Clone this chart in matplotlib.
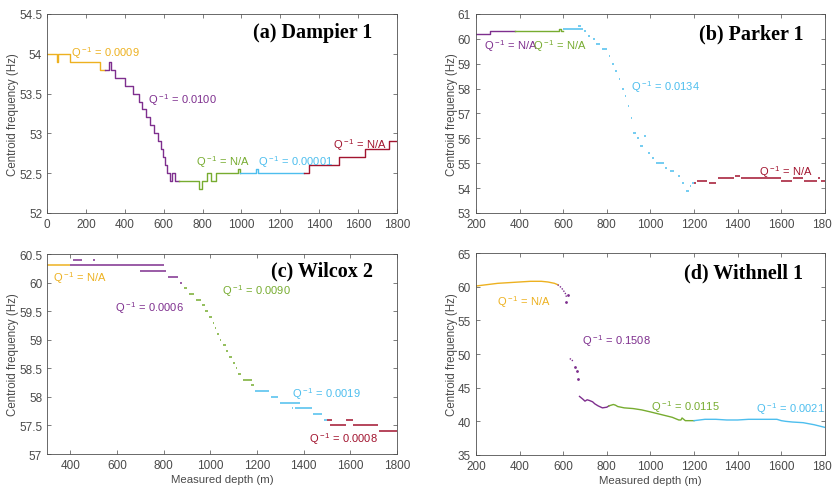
import numpy as np
import matplotlib
matplotlib.use("Agg")
import matplotlib.pyplot as plt

plt.rcParams["font.family"] = ["Liberation Sans", "DejaVu Sans"]
plt.rcParams["mathtext.fontset"] = "custom"
plt.rcParams["mathtext.rm"] = "Liberation Sans"
plt.rcParams["mathtext.it"] = "Liberation Sans:italic"

YEL, PUR, GRN, CYN, RED = "#EDB120", "#7E2F8E", "#77AC30", "#4DBEEE", "#A2142F"

# (a) Dampier 1 -- staircase traces (depth m, centroid Hz)
a_yel_x = [0, 50, 58, 120, 272, 300]
a_yel_y = [54.0, 53.9, 54.0, 53.9, 53.8, 53.8]
a_pur_x = [300, 320, 330, 350, 400, 440, 475, 490, 510, 530, 550, 570, 585, 595, 605, 615, 635, 645, 660, 680]
a_pur_y = [53.8, 53.9, 53.8, 53.7, 53.6, 53.5, 53.4, 53.3, 53.2, 53.1, 53.0, 52.9, 52.8, 52.7, 52.6, 52.5, 52.4, 52.5, 52.4, 52.4]
a_grn_x = [680, 780, 795, 825, 845, 870, 980, 990]
a_grn_y = [52.4, 52.3, 52.4, 52.5, 52.4, 52.5, 52.55, 52.5]
a_cyn_x = [990, 1075, 1085, 1320]
a_cyn_y = [52.5, 52.55, 52.5, 52.5]
a_red_x = [1320, 1345, 1500, 1635, 1760, 1800]
a_red_y = [52.5, 52.6, 52.7, 52.8, 52.9, 52.9]

# (b) Parker 1
b_pur_x = [200, 265, 380]
b_pur_y = [60.2, 60.3, 60.3]
b_grn_x = [380, 580, 590, 600]
b_grn_y = [60.3, 60.4, 60.3, 60.3]
b_cyn = [(600, 690, 60.4), (670, 680, 60.5), (695, 705, 60.3), (715, 725, 60.1), (735, 745, 60.0),
         (750, 770, 59.8), (780, 800, 59.6), (808, 815, 59.3), (825, 832, 59.0), (838, 845, 58.7),
         (855, 862, 58.4), (870, 877, 58.0), (882, 888, 57.7), (895, 902, 57.3), (910, 916, 56.8),
         (920, 935, 56.2), (940, 948, 56.0), (952, 965, 55.7), (972, 980, 56.1), (988, 1000, 55.4),
         (1008, 1015, 55.2), (1025, 1060, 55.0), (1065, 1075, 54.8), (1088, 1110, 54.7),
         (1125, 1135, 54.5), (1145, 1155, 54.2), (1165, 1175, 53.9), (1180, 1188, 54.1), (1190, 1198, 54.2)]
b_red = [(1200, 1210, 54.2), (1212, 1260, 54.3), (1268, 1300, 54.2), (1308, 1385, 54.4), (1390, 1410, 54.5),
         (1415, 1600, 54.4), (1600, 1650, 54.3), (1655, 1700, 54.4), (1705, 1765, 54.3), (1770, 1778, 54.4),
         (1780, 1800, 54.3)]

# (c) Wilcox 2
c_yel = [(300, 400, 60.3)]
c_pur = [(400, 800, 60.3), (410, 450, 60.4), (495, 505, 60.4), (700, 810, 60.2), (820, 860, 60.1), (868, 880, 60.0)]
c_grn = [(888, 900, 59.9), (908, 930, 59.8), (938, 960, 59.7), (965, 975, 59.6), (978, 992, 59.5),
         (995, 1005, 59.4), (1010, 1016, 59.3), (1020, 1026, 59.2), (1030, 1036, 59.1), (1040, 1046, 59.0),
         (1055, 1065, 58.9), (1068, 1075, 58.8), (1080, 1092, 58.7), (1098, 1104, 58.6), (1108, 1115, 58.5),
         (1120, 1130, 58.4), (1140, 1180, 58.3), (1175, 1185, 58.2)]
c_cyn = [(1190, 1250, 58.1), (1258, 1290, 58.0), (1300, 1385, 57.9), (1350, 1355, 57.8), (1362, 1435, 57.8),
         (1440, 1480, 57.7), (1488, 1500, 57.6)]
c_red = [(1500, 1520, 57.6), (1512, 1580, 57.5), (1580, 1610, 57.6), (1612, 1720, 57.5), (1722, 1800, 57.4)]

# (d) Withnell 1
d_yel_x = [200, 250, 300, 350, 400, 450, 500, 530, 560, 575]
d_yel_y = [60.1, 60.3, 60.5, 60.6, 60.7, 60.8, 60.8, 60.7, 60.5, 60.3]
d_pur1_x = [575, 590, 600, 610, 615]
d_pur1_y = [60.3, 59.9, 59.5, 59.0, 58.5]
d_pur_dots_x = [615, 620, 655, 662, 668]
d_pur_dots_y = [57.8, 58.8, 48.0, 47.5, 46.3]
d_pur2_x = [630, 640, 645]
d_pur2_y = [49.3, 49.2, 48.8]
d_pur3_x = [675, 690, 700, 710, 720, 735, 745, 760, 780, 800, 810]
d_pur3_y = [43.7, 43.3, 43.0, 43.2, 43.1, 42.9, 42.6, 42.3, 42.0, 42.1, 42.3]
d_grn_x = [810, 830, 840, 850, 880, 920, 960, 1000, 1050, 1100, 1130, 1140, 1145, 1160, 1200]
d_grn_y = [42.3, 42.5, 42.4, 42.2, 42.0, 41.9, 41.7, 41.4, 41.0, 40.6, 40.2, 40.2, 40.5, 40.1, 40.1]
d_cyn_x = [1200, 1250, 1300, 1350, 1400, 1450, 1500, 1550, 1580, 1600, 1620, 1650, 1700, 1750, 1800]
d_cyn_y = [40.1, 40.3, 40.3, 40.2, 40.2, 40.3, 40.3, 40.3, 40.3, 40.1, 40.0, 39.9, 39.8, 39.5, 39.1]


def q(v):
    return r"Q$^{\rm -1}$ = " + v


def style(ax, xlim, ylim, xticks, yticks, title, tx, ty):
    ax.set_xlim(*xlim)
    ax.set_ylim(*ylim)
    ax.set_xticks(xticks)
    ax.set_yticks(yticks)
    ax.tick_params(direction="in", length=3, width=0.5, colors="#4a4a4a", labelsize=8.5,
                   top=True, right=True)
    for s in ax.spines.values():
        s.set_linewidth(0.6)
        s.set_color("#505050")
    ax.set_ylabel("Centroid frequency (Hz)", fontsize=8.3, color="#4a4a4a", labelpad=0)
    ax.text(tx, ty, title, transform=ax.transAxes, ha="right", va="center",
            fontsize=14.5, fontweight="bold", family="Liberation Serif")


def segs(ax, data, color):
    x0 = [d[0] for d in data]
    x1 = [d[1] for d in data]
    y = [d[2] for d in data]
    ax.hlines(y, x0, x1, colors=color, lw=1.1)


fig = plt.figure(figsize=(8.32, 4.89), dpi=100)
axa = fig.add_axes([0.0565, 0.5624, 0.4207, 0.407])
axb = fig.add_axes([0.572, 0.5624, 0.4195, 0.407])
axc = fig.add_axes([0.0565, 0.0695, 0.4207, 0.409])
axd = fig.add_axes([0.572, 0.0675, 0.4195, 0.413])

# (a)
for x, y, c in [(a_yel_x, a_yel_y, YEL), (a_pur_x, a_pur_y, PUR), (a_grn_x, a_grn_y, GRN),
                (a_cyn_x, a_cyn_y, CYN), (a_red_x, a_red_y, RED)]:
    axa.plot(x, y, color=c, lw=1.0, drawstyle="steps-post")
style(axa, (0, 1800), (52, 54.5), np.arange(0, 1801, 200), np.arange(52, 54.51, 0.5),
      "(a) Dampier 1", 0.93, 0.91)
axa.set_yticklabels(["52", "52.5", "53", "53.5", "54", "54.5"])
axa.text(125, 54.02, q("0.0009"), color=YEL, fontsize=8, va="center")
axa.text(520, 53.43, q("0.0100"), color=PUR, fontsize=8, va="center")
axa.text(766, 52.65, q("N/A"), color=GRN, fontsize=8, va="center")
axa.text(1085, 52.65, q("0.00001"), color=CYN, fontsize=8, va="center")
axa.text(1470, 52.87, q("N/A"), color=RED, fontsize=8, va="center")

# (b)
axb.plot(b_pur_x, b_pur_y, color=PUR, lw=1.0, drawstyle="steps-post")
axb.plot(b_grn_x, b_grn_y, color=GRN, lw=1.0, drawstyle="steps-post")
segs(axb, b_cyn, CYN)
segs(axb, b_red, RED)
style(axb, (200, 1800), (53, 61), np.arange(200, 1801, 200), np.arange(53, 61.1, 1),
      "(b) Parker 1", 0.94, 0.90)
axb.text(237, 59.73, q("N/A"), color=PUR, fontsize=8, va="center")
axb.text(460, 59.73, q("N/A"), color=GRN, fontsize=8, va="center")
axb.text(911, 58.1, q("0.0134"), color=CYN, fontsize=8, va="center")
axb.text(1498, 54.67, q("N/A"), color=RED, fontsize=8, va="center")

# (c)
segs(axc, c_yel, YEL)
segs(axc, c_pur, PUR)
segs(axc, c_grn, GRN)
segs(axc, c_cyn, CYN)
segs(axc, c_red, RED)
style(axc, (300, 1800), (57, 60.5), np.arange(400, 1801, 200), np.arange(57, 60.51, 0.5),
      "(c) Wilcox 2", 0.93, 0.92)
axc.set_yticklabels(["57", "57.5", "58", "58.5", "59", "59.5", "60", "60.5"])
axc.set_xlabel("Measured depth (m)", fontsize=8.2, color="#4a4a4a", labelpad=2)
axc.text(327, 60.09, q("N/A"), color=YEL, fontsize=8, va="center")
axc.text(591, 59.57, q("0.0006"), color=PUR, fontsize=8, va="center")
axc.text(1049, 59.87, q("0.0090"), color=GRN, fontsize=8, va="center")
axc.text(1349, 58.07, q("0.0019"), color=CYN, fontsize=8, va="center")
axc.text(1424, 57.27, q("0.0008"), color=RED, fontsize=8, va="center")

# (d)
axd.plot(d_yel_x, d_yel_y, color=YEL, lw=1.0)
axd.plot(d_pur1_x, d_pur1_y, color=PUR, lw=1.0, ls=(0, (1, 1)))
axd.plot(d_pur2_x, d_pur2_y, color=PUR, lw=1.0, ls=(0, (1, 1)))
axd.plot(d_pur_dots_x, d_pur_dots_y, color=PUR, ls="none", marker=".", ms=2)
axd.plot(d_pur3_x, d_pur3_y, color=PUR, lw=1.0)
axd.plot(d_grn_x, d_grn_y, color=GRN, lw=1.0)
axd.plot(d_cyn_x, d_cyn_y, color=CYN, lw=1.0)
style(axd, (200, 1800), (35, 65), np.arange(200, 1801, 200), np.arange(35, 65.1, 5),
      "(d) Withnell 1", 0.937, 0.905)
axd.set_xlabel("Measured depth (m)", fontsize=8.2, color="#4a4a4a", labelpad=2)
axd.text(299, 57.8, q("N/A"), color=YEL, fontsize=8, va="center")
axd.text(685, 52.0, q("0.1508"), color=PUR, fontsize=8, va="center")
axd.text(1002, 42.2, q("0.0115"), color=GRN, fontsize=8, va="center")
axd.text(1484, 41.9, q("0.0021"), color=CYN, fontsize=8, va="center")

fig.savefig("out.png", dpi=100)
